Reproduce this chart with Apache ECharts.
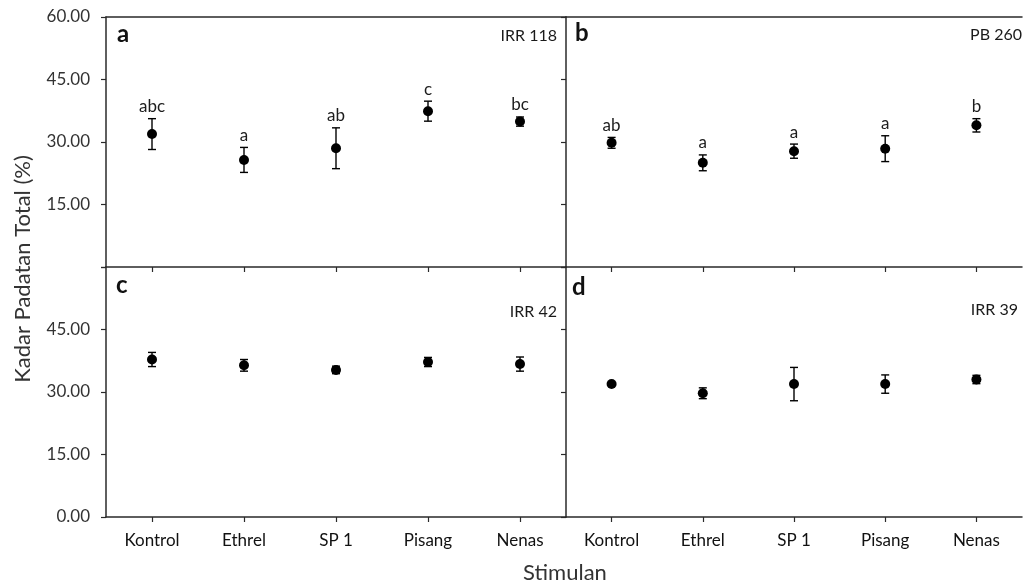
<!DOCTYPE html>
<html>
<head>
<meta charset="utf-8">
<script src="https://cdn.jsdelivr.net/npm/echarts@6/dist/echarts.min.js"></script>
<style>
html,body{margin:0;padding:0;background:#fff;}
#main{width:1026px;height:583px;}
</style>
</head>
<body>
<div id="main"></div>
<script>
const categories = ['Kontrol', 'Ethrel', 'SP 1', 'Pisang', 'Nenas'];
const yTickValues = [0, 15, 30, 45, 60];

// Panel a: IRR 118
const meanA = [31.9, 25.7, 28.5, 37.4, 34.9];
const errA = [3.7, 3.0, 4.9, 2.4, 1.1];
const lettersA = ['abc', 'a', 'ab', 'c', 'bc'];
// Panel b: PB 260
const meanB = [29.8, 25.0, 27.8, 28.4, 34.0];
const errB = [1.3, 1.9, 1.7, 3.1, 1.6];
const lettersB = ['ab', 'a', 'a', 'a', 'b'];
// Panel c: IRR 42
const meanC = [37.8, 36.4, 35.3, 37.2, 36.7];
const errC = [1.7, 1.4, 0.9, 1.1, 1.7];
const lettersC = ['', '', '', '', ''];
// Panel d: IRR 39
const meanD = [31.9, 29.7, 31.9, 31.9, 33.0];
const errD = [0.3, 1.3, 4.0, 2.2, 1.0];
const lettersD = ['', '', '', '', ''];

const panelLetters = ['a', 'b', 'c', 'd'];
const panelNames = ['IRR 118', 'PB 260', 'IRR 42', 'IRR 39'];
const xTitle = 'Stimulan';
const yTitle = 'Kadar Padatan Total (%)';

const panels = [
  {mean: meanA, err: errA, letters: lettersA},
  {mean: meanB, err: errB, letters: lettersB},
  {mean: meanC, err: errC, letters: lettersC},
  {mean: meanD, err: errD, letters: lettersD}
];

const FONT = 'Lato, "Open Sans", sans-serif';
const AXC = '#2a2a2a';

const grids = [
  {left: 106, top: 17, width: 460, height: 250},
  {left: 566, top: 17, width: 456, height: 250},
  {left: 106, top: 267, width: 460, height: 250},
  {left: 566, top: 267, width: 456, height: 250}
];

const xAxes = [];
const yAxes = [];
grids.forEach((g, i) => {
  const bottomRow = i >= 2;
  xAxes.push({
    type: 'category', gridIndex: i, data: categories, boundaryGap: true,
    axisLine: {show: true, lineStyle: {color: AXC, width: 1.5}},
    axisTick: {show: true, alignWithLabel: true, length: 5, lineStyle: {color: AXC, width: 1.2}},
    axisLabel: {show: bottomRow, margin: 15, fontFamily: FONT, fontSize: 17, fontWeight: 'normal', color: '#111'},
    splitLine: {show: false}
  });
  const leftCol = (i % 2) === 0;
  yAxes.push({
    type: 'value', gridIndex: i, min: yTickValues[0], max: yTickValues[yTickValues.length - 1], interval: 15,
    axisLine: {show: true, lineStyle: {color: AXC, width: 1.5}},
    axisTick: {show: true, length: 5, lineStyle: {color: AXC, width: 1.2}},
    axisLabel: {
      show: leftCol, margin: 16, fontFamily: FONT, fontSize: 17, color: '#333',
      formatter: v => {
        if (!bottomRow && v === 0) return '';
        if (bottomRow && v === 60) return '';
        return v.toFixed(2);
      }
    },
    splitLine: {show: false}
  });
});
// top borders for the upper panels
[0, 1].forEach(i => {
  xAxes.push({
    type: 'category', gridIndex: i, position: 'top', data: categories,
    axisLine: {show: true, lineStyle: {color: AXC, width: 1.5}},
    axisTick: {show: false}, axisLabel: {show: false}, splitLine: {show: false}
  });
});

const series = [];
panels.forEach((p, i) => {
  series.push({
    type: 'custom', xAxisIndex: i, yAxisIndex: i, z: 2,
    data: p.mean.map((m, k) => [k, m - p.err[k], m + p.err[k], m]),
    encode: {x: 0, y: [1, 2]},
    renderItem: (params, api) => {
      const x = api.value(0);
      const lo = api.coord([x, api.value(1)]);
      const hi = api.coord([x, api.value(2)]);
      const mid = api.coord([x, api.value(3)]);
      const cap = 4;
      const ls = {stroke: '#000', lineWidth: 1.4};
      const children = [
        {type: 'line', shape: {x1: lo[0], y1: lo[1], x2: hi[0], y2: hi[1]}, style: ls},
        {type: 'line', shape: {x1: lo[0] - cap, y1: lo[1], x2: lo[0] + cap, y2: lo[1]}, style: ls},
        {type: 'line', shape: {x1: hi[0] - cap, y1: hi[1], x2: hi[0] + cap, y2: hi[1]}, style: ls}
      ];
      const txt = p.letters[params.dataIndex];
      if (txt) {
        const topY = Math.min(hi[1], mid[1] - 5);
        children.push({
          type: 'text',
          style: {text: txt, x: hi[0], y: topY - 12, align: 'center', verticalAlign: 'middle',
                  fill: '#1c1c1c', font: '17px ' + FONT}
        });
      }
      return {type: 'group', children: children};
    }
  });
  series.push({
    type: 'scatter', xAxisIndex: i, yAxisIndex: i, z: 3,
    symbol: 'circle', symbolSize: 10,
    itemStyle: {color: '#000', opacity: 1},
    data: p.mean.map((m, k) => [k, m])
  });
});

const graphics = [];
const letterPos = [[117, 37], [575, 36], [116, 288], [572, 290]];
const namePos = [[557, 37], [1022, 36], [557, 313], [1018, 311]];
panelLetters.forEach((l, i) => {
  graphics.push({type: 'text', left: letterPos[i][0], top: letterPos[i][1] - 15,
    style: {text: l, font: 'bold 24px ' + FONT, fill: '#111'}});
  graphics.push({type: 'text', right: 1026 - namePos[i][0], top: namePos[i][1] - 9,
    style: {text: panelNames[i], font: '16px ' + FONT, fill: '#1a1a1a'}});
});
graphics.push({type: 'text', x: 565, y: 573,
  style: {text: xTitle, font: '22px ' + FONT, fill: '#333', align: 'center', verticalAlign: 'middle'}});
graphics.push({type: 'text', x: 23, y: 269, rotation: Math.PI / 2,
  style: {text: yTitle, font: '22px ' + FONT, fill: '#333', align: 'center', verticalAlign: 'middle'}});

const chart = echarts.init(document.getElementById('main'), null, {renderer: 'canvas'});
chart.setOption({
  animation: false,
  backgroundColor: '#fff',
  grid: grids,
  xAxis: xAxes,
  yAxis: yAxes,
  series: series,
  graphic: graphics
});
</script>
</body>
</html>
